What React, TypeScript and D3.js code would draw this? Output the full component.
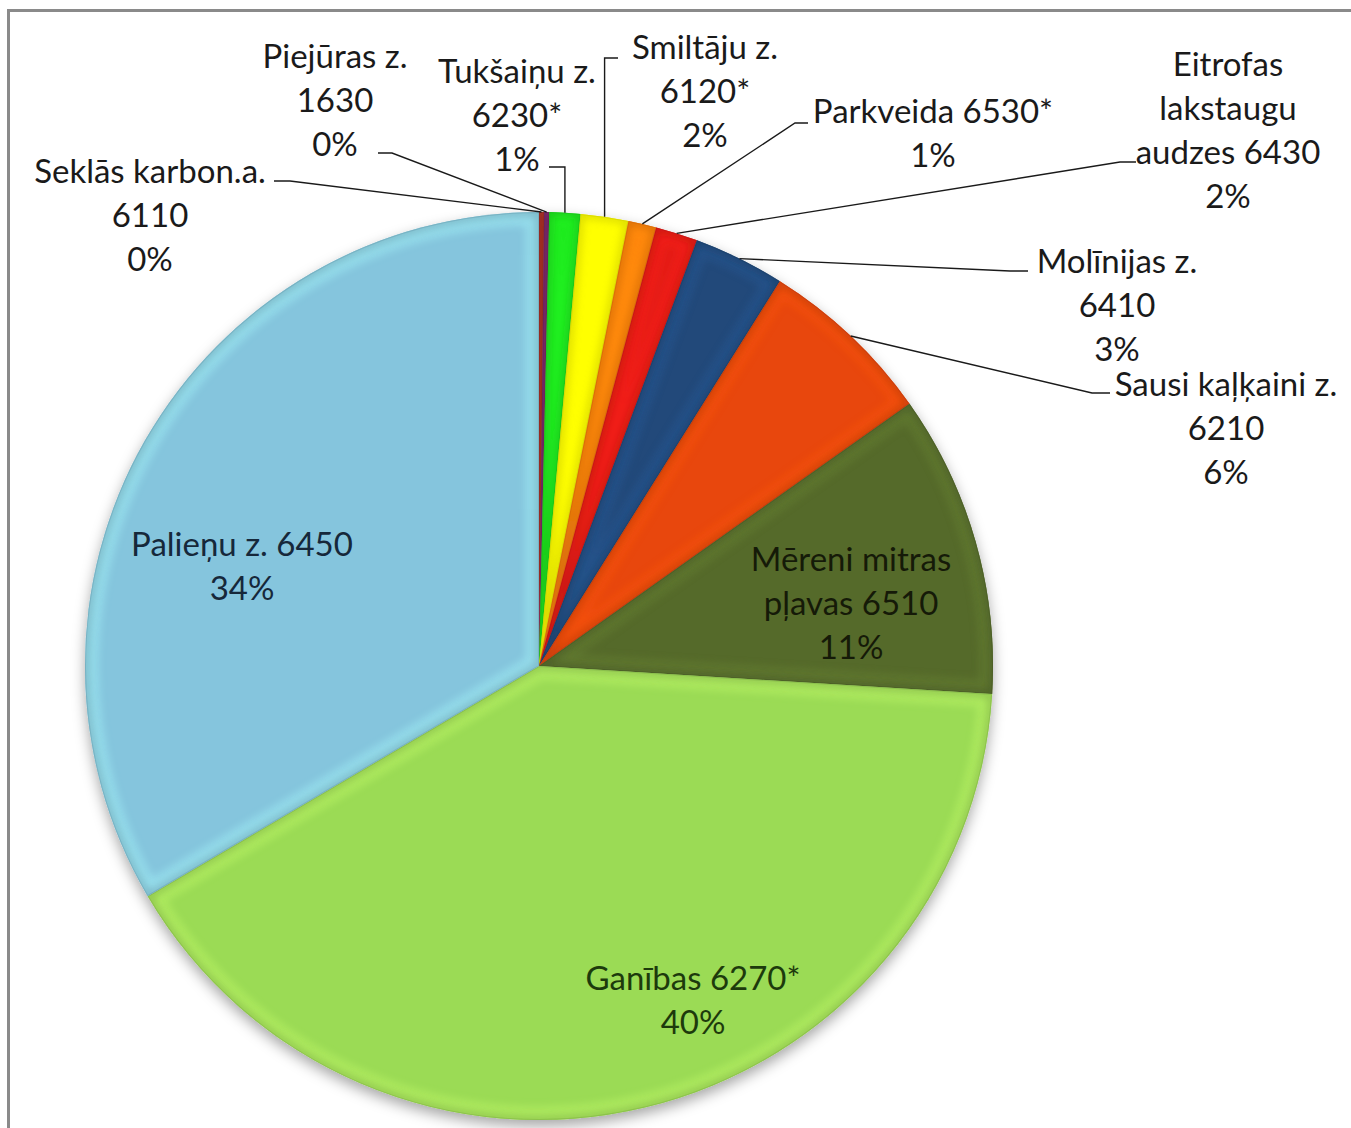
import React from 'react'
import * as d3 from 'd3'

// slices, clockwise from 12 o'clock
const names = [
  'Seklās karbon.a. 6110',
  'Piejūras z. 1630',
  'Tukšaiņu z. 6230*',
  'Smiltāju z. 6120*',
  'Parkveida 6530*',
  'Eitrofas lakstaugu audzes 6430',
  'Molīnijas z. 6410',
  'Sausi kaļķaini z. 6210',
  'Mēreni mitras pļavas 6510',
  'Ganības 6270*',
  'Palieņu z. 6450',
]
const shares = [0.18, 0.18, 1.1, 1.7, 1.0, 1.5, 3.25, 6.3, 10.8, 40.6, 33.5]
const labelLines = [
  ['Seklās karbon.a.', '6110', '0%'],
  ['Piejūras z.', '1630', '0%'],
  ['Tukšaiņu z.', '6230*', '1%'],
  ['Smiltāju z.', '6120*', '2%'],
  ['Parkveida 6530*', '1%'],
  ['Eitrofas', 'lakstaugu', 'audzes 6430', '2%'],
  ['Molīnijas z.', '6410', '3%'],
  ['Sausi kaļķaini z.', '6210', '6%'],
  ['Mēreni mitras', 'pļavas 6510', '11%'],
  ['Ganības 6270*', '40%'],
  ['Palieņu z. 6450', '34%'],
]
const colors = [
  '#a83228', '#7a2a6a', '#1ee31e', '#ffff00', '#ff7a0a', '#e51a16',
  '#21497a', '#e8460c', '#556a2c', '#9bdb55', '#85c5dd',
]

// label layout: text centre x, first baseline y, leader stub [startX, bendX, y] (null = inside slice)
const labelPos: { x: number; y: number; stub: [number, number, number] | null; vertical?: boolean }[] = [
  { x: 150, y: 183, stub: [274, 290, 181] },
  { x: 335, y: 68, stub: [378, 392, 153] },
  { x: 517, y: 83, stub: [549, 563, 167], vertical: true },
  { x: 705, y: 59, stub: [618, 605, 58], vertical: true },
  { x: 933, y: 123, stub: [808, 795, 123] },
  { x: 1228, y: 76, stub: [1136, 1120, 162] },
  { x: 1117, y: 273, stub: [1028, 1010, 271] },
  { x: 1226, y: 396, stub: [1110, 1092, 393] },
  { x: 851, y: 571, stub: null },
  { x: 693, y: 990, stub: null },
  { x: 242, y: 556, stub: null },
]
const textColors = ['#1a1a1a', '#1a1a1a', '#1a1a1a', '#1a1a1a', '#1a1a1a', '#1a1a1a',
  '#1a1a1a', '#1a1a1a', '#151a08', '#1d3a0c', '#16283a']

function App() {
  const width = 1351
  const height = 1128
  const cx = 539
  const cy = 666
  const radius = 454
  const lineH = 44

  const pie = d3.pie<number>().sort(null).value(d => d)
  const arcs = pie(shares)
  const arc = d3.arc<d3.PieArcDatum<number>>().innerRadius(0).outerRadius(radius)

  // point on the rim at the middle of a slice
  const edgePoint = (a: d3.PieArcDatum<number>) => {
    const m = (a.startAngle + a.endAngle) / 2
    return [cx + radius * Math.sin(m), cy - radius * Math.cos(m)]
  }

  return (
    <svg width={width} height={height} style={{ position: 'absolute', left: 0, top: 0, background: '#fff' }}
      fontFamily="Lato, 'Open Sans', sans-serif">
      <defs>
        <filter id="shadow" x="-10%" y="-10%" width="120%" height="125%">
          <feDropShadow dx="0" dy="6" stdDeviation="7" floodColor="#000" floodOpacity="0.35" />
        </filter>
        <filter id="soft" x="-5%" y="-5%" width="110%" height="110%">
          <feGaussianBlur stdDeviation="4" />
        </filter>
        {arcs.map((a, i) => (
          <clipPath id={`clip${i}`} key={i}>
            <path d={arc(a) || ''} />
          </clipPath>
        ))}
      </defs>

      {/* chart frame */}
      <path d={`M 8.5 ${height} V 10.5 H ${width + 5}`} fill="none" stroke="#8a8a8a" strokeWidth="3" />

      <g transform={`translate(${cx} ${cy})`}>
        <g filter="url(#shadow)">
          {arcs.map((a, i) => (
            <path key={i} d={arc(a) || ''} fill={colors[i]} />
          ))}
        </g>
        {/* bevel: light soft band inside the edges, thin darker rim */}
        {arcs.map((a, i) => {
          const c = d3.color(colors[i])!
          return (
            <g key={i} clipPath={`url(#clip${i})`}>
              <path d={arc(a) || ''} fill="none" stroke={c.brighter(0.7).formatHex()}
                strokeWidth="26" opacity="0.45" filter="url(#soft)" />
              <path d={arc(a) || ''} fill="none" stroke={c.darker(0.9).formatHex()}
                strokeWidth="6" opacity="0.6" filter="url(#soft)" />
              <path d={arc(a) || ''} fill="none" stroke={c.darker(0.6).formatHex()}
                strokeWidth="2" opacity="0.5" />
            </g>
          )
        })}
      </g>

      {/* leader lines */}
      {arcs.map((a, i) => {
        const p = labelPos[i]
        if (!p.stub) return null
        const [ex, ey] = edgePoint(a)
        const [sx, bx, sy] = p.stub
        const d = p.vertical
          ? `M ${sx} ${sy} H ${ex} V ${ey}`
          : `M ${sx} ${sy} H ${bx} L ${ex} ${ey}`
        return <path key={i} d={d} fill="none" stroke="#1a1a1a" strokeWidth="1.4" />
      })}

      {/* labels */}
      {labelLines.map((lines, i) => {
        const p = labelPos[i]
        return (
          <text key={names[i]} x={p.x} y={p.y} textAnchor="middle" fontSize="33" fill={textColors[i]}>
            {lines.map((l, j) => (
              <tspan key={j} x={p.x} dy={j === 0 ? 0 : lineH}>{l}</tspan>
            ))}
          </text>
        )
      })}
    </svg>
  )
}

export default App
